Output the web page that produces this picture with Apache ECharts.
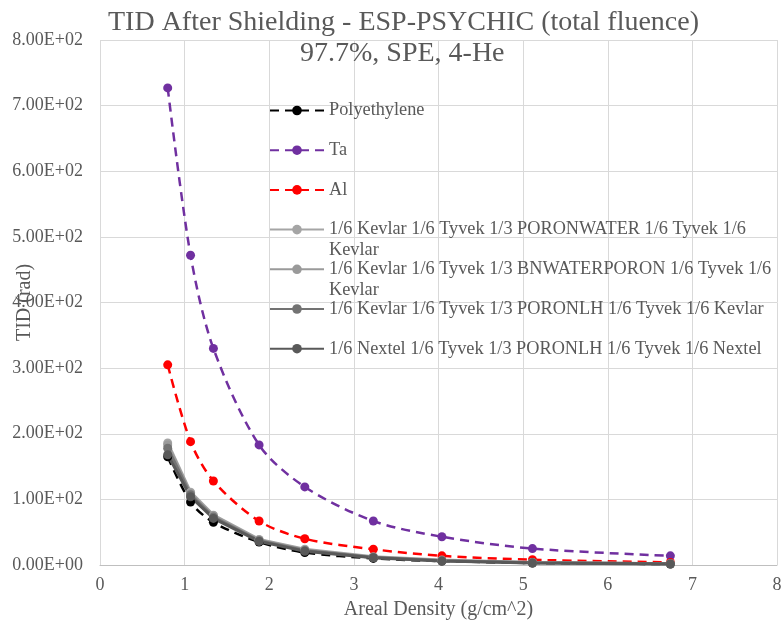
<!DOCTYPE html>
<html lang="en">
<head>
    <meta charset="UTF-8">
    <title>TID After Shielding - ESP-PSYCHIC (total fluence)</title>
    <script src="https://cdn.jsdelivr.net/npm/echarts@6/dist/echarts.min.js"></script>
    <style>
        body {
            margin: 0;
            padding: 0;
            background-color: #fff;
        }
        #chart {
            width: 783px;
            height: 624px;
        }
    </style>
</head>
<body>
    <div id="chart"></div>

    <script>
        // areal density (g/cm^2) of each shielding thickness
        var arealDensity = [0.8, 1.07, 1.34, 1.88, 2.42, 3.23, 4.04, 5.11, 6.74];

        var seriesNames = [
            'Polyethylene',
            'Ta',
            'Al',
            '1/6 Kevlar 1/6 Tyvek 1/3 PORONWATER 1/6 Tyvek 1/6 Kevlar',
            '1/6 Kevlar 1/6 Tyvek 1/3 BNWATERPORON 1/6 Tyvek 1/6 Kevlar',
            '1/6 Kevlar 1/6 Tyvek 1/3 PORONLH 1/6 Tyvek 1/6 Kevlar',
            '1/6 Nextel 1/6 Tyvek 1/3 PORONLH 1/6 Tyvek 1/6 Nextel'
        ];

        // TID (rad)
        var polyethylene = [165, 96, 65, 35, 19, 10, 6, 3, 1.5];
        var ta = [727, 472, 330, 183, 119, 67, 43, 25, 14];
        var al = [305, 188, 128, 67, 40, 24, 14, 8, 4];
        var kevlarPoronWater = [186, 111, 76, 39, 24, 12.5, 7.5, 4, 2];
        var kevlarBnWaterPoron = [183, 109, 75, 38, 23, 12, 7, 4, 2];
        var kevlarPoronLH = [178, 107, 73, 37, 22, 11.5, 6.5, 3.5, 1.8];
        var nextelPoronLH = [168, 104, 71, 36, 21, 11, 6, 3, 1.5];

        var seriesValues = [polyethylene, ta, al, kevlarPoronWater, kevlarBnWaterPoron, kevlarPoronLH, nextelPoronLH];
        var seriesColors = ['#000000', '#7030A0', '#FF0000', '#A5A5A5', '#9A9A9A', '#737373', '#595959'];
        var dashed = [true, true, true, false, false, false, false];

        // legend text wrapped like the original; the leading empty line keeps
        // the marker level with the first line of text
        var legendText = {};
        legendText[seriesNames[3]] = '\n1/6 Kevlar 1/6 Tyvek 1/3 PORONWATER 1/6 Tyvek 1/6\nKevlar';
        legendText[seriesNames[4]] = '\n1/6 Kevlar 1/6 Tyvek 1/3 BNWATERPORON 1/6 Tyvek 1/6\nKevlar';

        var serif = 'Liberation Serif, Times New Roman, serif';
        var textGray = '#595959';

        function sciLabel(v) {
            if (v === 0) return '0.00E+00';
            var exp = Math.floor(Math.log10(v));
            var mant = v / Math.pow(10, exp);
            return mant.toFixed(2) + 'E+' + (exp < 10 ? '0' + exp : exp);
        }

        var series = seriesNames.map(function (name, i) {
            return {
                name: name,
                type: 'line',
                symbol: 'circle',
                symbolSize: 9,
                smooth: dashed[i] ? 0.3 : false,
                data: arealDensity.map(function (x, j) { return [x, seriesValues[i][j]]; }),
                itemStyle: { color: seriesColors[i] },
                lineStyle: {
                    color: seriesColors[i],
                    width: dashed[i] ? 2.5 : 3,
                    type: dashed[i] ? [9, 6] : 'solid'
                },
                emphasis: { disabled: true }
            };
        });

        // one legend per entry so wrapped entries keep the even spacing
        var legends = seriesNames.map(function (name, i) {
            var wrapped = !!legendText[name];
            return {
                data: [name],
                orient: 'vertical',
                left: 269,
                top: 100 + i * 39.7 - (wrapped ? 21 : 0),
                padding: 0,
                itemWidth: 54,
                itemHeight: 12,
                itemGap: 0,
                selectedMode: false,
                formatter: function (n) { return legendText[n] || n; },
                textStyle: {
                    fontFamily: serif,
                    fontSize: 18.3,
                    color: textGray,
                    lineHeight: 21
                }
            };
        });

        var chart = echarts.init(document.getElementById('chart'));

        var option = {
            animation: false,
            title: [
                {
                    text: 'TID After Shielding - ESP-PSYCHIC (total fluence)',
                    left: 108,
                    top: 9,
                    padding: 0,
                    textStyle: { fontFamily: serif, fontSize: 28, fontWeight: 'normal', color: textGray }
                },
                {
                    text: '97.7%, SPE, 4-He',
                    left: 300,
                    top: 40,
                    padding: 0,
                    textStyle: { fontFamily: serif, fontSize: 28, fontWeight: 'normal', color: textGray }
                }
            ],
            legend: legends,
            grid: {
                left: 100,
                right: 6,
                top: 40,
                bottom: 59,
                outerBoundsMode: 'none'
            },
            xAxis: {
                type: 'value',
                min: 0,
                max: 8,
                interval: 1,
                name: 'Areal Density (g/cm^2)',
                nameLocation: 'middle',
                nameGap: 35,
                nameMoveOverlap: false,
                nameTextStyle: { fontFamily: serif, fontSize: 20, color: textGray },
                axisLine: { show: true, onZero: false, lineStyle: { color: '#BFBFBF', width: 1 } },
                axisTick: { show: false },
                axisLabel: { fontFamily: serif, fontSize: 18, color: textGray, margin: 11 },
                splitLine: { show: true, lineStyle: { color: '#D9D9D9', width: 1 } }
            },
            yAxis: {
                type: 'value',
                min: 0,
                max: 800,
                interval: 100,
                name: 'TID (rad)',
                nameLocation: 'middle',
                nameGap: 65,
                nameMoveOverlap: false,
                nameTextStyle: { fontFamily: serif, fontSize: 20, color: textGray },
                axisLine: { show: false },
                axisTick: { show: false },
                axisLabel: { fontFamily: serif, fontSize: 18, color: textGray, margin: 17, formatter: sciLabel },
                splitLine: { show: true, lineStyle: { color: '#D9D9D9', width: 1 } }
            },
            series: series
        };

        chart.setOption(option);
    </script>
</body>
</html>
